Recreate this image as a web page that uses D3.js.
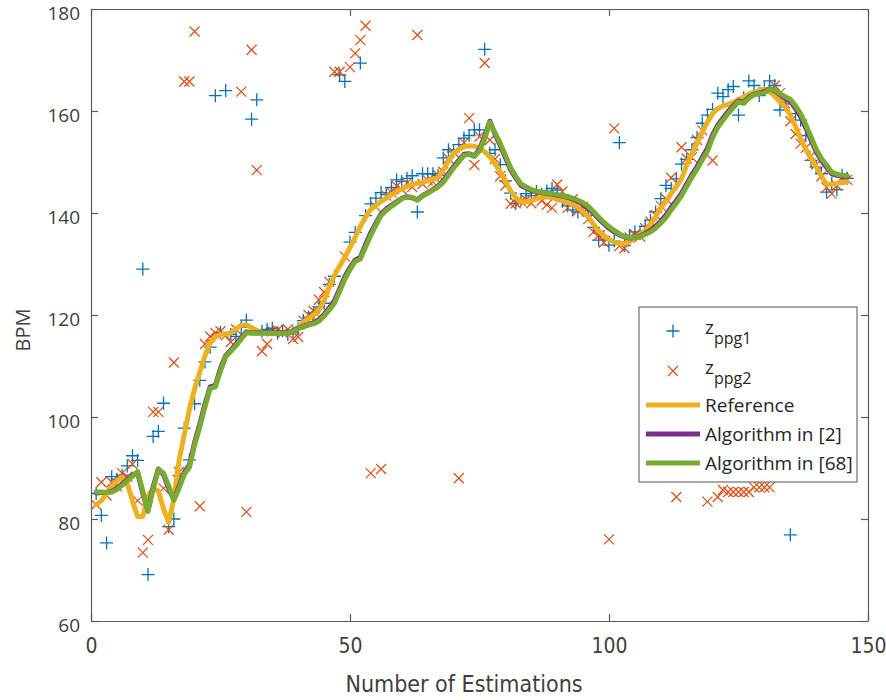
<!DOCTYPE html>
<html>
<head>
<meta charset="utf-8">
<script src="https://cdn.jsdelivr.net/npm/d3@7"></script>
<style>
  body { margin: 0; background: #fff; }
  svg { display: block; }
</style>
</head>
<body>
<svg id="chart" width="886" height="700"></svg>
<script>
// heart rate estimates vs estimation number

// reference heart rate (orange line)
const refBpm = [82.8, 83.6, 85, 86.5, 87.5, 88.2, 87, 83.5, 80.5, 80.5,
  84.5, 86, 85.5, 82, 79.3, 84, 91.5, 96.5, 101.5, 105.5,
  108.8, 112, 114.5, 115.7, 116.2, 116.3, 116.5, 117.3, 118, 118.1,
  117.5, 117, 116.6, 116.5, 116.4, 116.4, 116.4, 116.4, 116.8, 117.6,
  118.6, 119.3, 120, 121, 122.8, 125.5, 127.8, 129.6, 131.3, 133.2,
  135.2, 137.4, 139.2, 140.7, 141.5, 142.3, 142.9, 143.6, 144.2, 144.7,
  145.2, 145.6, 145.8, 146, 146.3, 146.6, 147, 148.4, 150.2, 151.7,
  152.5, 153, 153.2, 153.1, 152.7, 152, 151, 149.6, 148.1, 146.3,
  144.3, 143, 142.2, 142.2, 142.4, 142.8, 143.1, 143.2, 143, 142.7,
  142.4, 142.1, 141.7, 141.1, 140.2, 139.2, 137.8, 136.5, 135.6, 134.8,
  134.3, 134, 133.9, 134.4, 135.1, 135.8, 136.5, 137.7, 139.3, 141,
  142.3, 143.8, 145.2, 146.7, 149.4, 151.6, 153.7, 155.8, 157.8, 159.5,
  160.5, 161, 161.3, 161.7, 162.2, 162.8, 163.3, 163.7, 164, 164.3,
  163.8, 162.9, 161.8, 160.8, 159.2, 157, 154.6, 152.4, 150.7, 149.1,
  147.2, 145.6, 145.7, 145.8, 146, 146.1];

// algorithm in [2] (purple line)
const alg2Bpm = [85.1, 85.2, 85.2, 85.4, 86, 86.8, 87.7, 88.6, 89.1, 85,
  81.7, 86.3, 89.8, 88.7, 86, 83.8, 86.4, 89.1, 90.6, 95,
  98.6, 102.5, 105.9, 106.2, 109.5, 112, 113.1, 114.3, 115.6, 116.7,
  116.5, 116.5, 116.5, 116.5, 116.5, 116.5, 116.5, 116.5, 116.9, 117.4,
  117.8, 118.1, 118.5, 119.1, 120.1, 121.4, 122.8, 125.1, 127.5, 129.3,
  130.8, 131.3, 133.8, 136.1, 138, 139.8, 140.8, 141.5, 142.2, 142.9,
  143.2, 143, 142.6, 143.4, 144, 144.6, 145.3, 146.3, 147.7, 149.1,
  150.3, 151.5, 151.6, 151.2, 152.5, 155, 158, 155.4, 153.3, 150.9,
  148.5, 146.9, 145.4, 144.9, 144.4, 144.2, 144, 143.8, 143.7, 143.5,
  143.3, 143.1, 142.7, 142.3, 141.7, 141, 140, 138.9, 137.9, 137,
  136.3, 135.7, 135.3, 135.1, 135.2, 135.5, 136, 136.6, 137.4, 138.4,
  139.6, 141.1, 142.4, 143.9, 145.7, 147.5, 149.1, 150.9, 152.7, 155.3,
  157.2, 158.6, 159.9, 161, 162, 161.7, 162.7, 163.3, 163.5, 163.8,
  164.3, 164, 163.2, 162.5, 161.9, 160.5, 158.9, 156.7, 154.3, 152,
  150.3, 149, 147.7, 147.4, 147.2, 147.1];

// algorithm in [68] (green line)
const alg68Bpm = [85.3, 85.3, 85.2, 85.3, 85.8, 86.6, 87.5, 88.4, 89.3, 85.5,
  81.5, 85.8, 89.7, 89, 86.5, 83.7, 86, 88.8, 90.1, 94.5,
  98, 102, 105.6, 105.9, 109, 111.8, 112.9, 114, 115.3, 116.5,
  116.4, 116.4, 116.4, 116.4, 116.4, 116.4, 116.4, 116.4, 116.8, 117.3,
  117.7, 118, 118.3, 118.8, 119.8, 121, 122.3, 124.6, 127, 128.9,
  130.5, 131, 133.3, 135.6, 137.6, 139.5, 140.5, 141.3, 142, 142.8,
  143.1, 143.1, 142.5, 143.3, 143.9, 144.5, 145.1, 146, 147.4, 148.8,
  150, 151.3, 151.5, 151.1, 152.2, 154.5, 157.8, 155.7, 153.7, 151.3,
  148.9, 147.2, 145.7, 145.1, 144.6, 144.3, 144.1, 143.9, 143.8, 143.6,
  143.4, 143.2, 142.9, 142.5, 142, 141.3, 140.3, 139.2, 138.2, 137.3,
  136.6, 135.9, 135.4, 135.2, 135.2, 135.4, 135.8, 136.3, 137, 138,
  139.1, 140.6, 141.9, 143.4, 145.2, 147, 148.6, 150.4, 152.1, 154.8,
  156.8, 158.2, 159.5, 160.7, 161.8, 161.5, 162.5, 163.2, 163.4, 163.6,
  164.2, 164.1, 163.4, 162.8, 162.3, 161, 159.5, 157.3, 154.9, 152.5,
  150.7, 149.4, 148, 147.6, 147.4, 147.3];

// z_ppg1 estimates (blue +)
const zPpg1 = [85, 80.7, 75.3, 88.3, 87.8, 88.6, 90.4, 92.4, 91.5, 129,
  69.1, 96.2, 97.2, 102.7, 78.5, 80, 88.5, 97.8, 91.6, 102.6,
  107.2, 110.8, 113.7, 163, 116.6, 164, 116.2, 115.8, 117.6, 119,
  158.4, 162.2, 116.8, 117.2, 117.4, 116.4, 116.9, 116.2, 116.5, 117.3,
  118.9, 119.6, 120.4, 121.6, 122.3, 126, 127.6, 167.1, 165.8, 134.3,
  136.2, 169.4, 139.5, 141.8, 142.9, 144, 143.6, 145, 146.5, 146.2,
  146.8, 147.3, 140.2, 147.7, 147.7, 147.7, 147.4, 150.8, 152.4, 152,
  153.4, 154.7, 155.2, 156.3, 156.3, 172.1, 151.7, 152.4, 149.5, 146.3,
  143.9, 141.9, 142.5, 143.8, 143.4, 144.2, 143.7, 144.3, 144.8, 144.5,
  142.3, 141.4, 140.6, 140.2, 140.5, 139.6, 137.2, 134.7, 135.4, 133.7,
  134.5, 153.8, 133.6, 135.6, 136.3, 136, 137.4, 138.6, 140.2, 142.8,
  145.4, 144.8, 146.7, 149.6, 150.5, 152.4, 154.8, 157.6, 159.2, 160.3,
  163.5, 162.8, 164.2, 164.8, 159.2, 162.6, 165.9, 165, 163, 164.5,
  165.9, 165, 160.2, 161.4, 76.9, 159.5, 158.2, 155.2, 150.3, 149,
  147.7, 144.1, 145.8, 144.6, 147.4, 146.8];

// z_ppg2 estimates (red x)
const zPpg2 = [82.8, 87.2, 84.6, 87.2, 86.4, 89, 88.3, 90.8, 83.6, 73.4,
  75.9, 101, 101, 86, 77.9, 110.7, 89.2, 165.8, 165.8, 175.6,
  82.5, 114.3, 115.8, 116.5, 116.8, 116, 114.7, 117.2, 163.8, 81.4,
  172, 148.4, 112.9, 114.3, 116.8, 117, 116.5, 117.2, 115.3, 115.7,
  118.9, 120, 120.8, 123, 124.5, 126.5, 167.7, 167.7, 131.5, 168.6,
  171.3, 173.9, 176.7, 89, 141.2, 89.8, 143.4, 144, 145.3, 144.6,
  145.9, 145.1, 174.9, 145.7, 146.4, 146.1, 147.4, 148.1, 150.7, 151.9,
  88, 153.8, 158.6, 149.4, 155, 169.4, 154.3, 150.6, 147.2, 145.4,
  141.8, 141.9, 142.3, 142.6, 141.9, 143.5, 142.4, 141.6, 141, 145.6,
  144.2, 141, 142.7, 140.5, 141.2, 138.8, 136.3, 135.6, 134.2, 76,
  156.6, 133.5, 133.1, 135.2, 135.8, 135.4, 137, 138.3, 139.6, 141.4,
  142.8, 146.9, 84.3, 152.9, 150.7, 150.9, 154.3, 156.2, 83.4, 150.3,
  84.3, 85.7, 85.3, 85.3, 85.3, 85.3, 85.3, 86.2, 86.2, 86.2,
  86.2, 165, 163.5, 161.5, 158, 155.5, 153.6, 152.8, 151.2, 149.5,
  147.2, 145, 143.8, 145.4, 146.9, 146.5];

// estimation numbers 1..N
const estimations = refBpm.map((d, i) => i + 1);

// tick values
const xTicks = [0, 50, 100, 150];
const yTicks = [60, 80, 100, 120, 140, 160, 180];

// legend labels
const legendLabels = ["z", "z", "Reference", "Algorithm in [2]", "Algorithm in [68]"];
const legendSubs = ["ppg1", "ppg2", "", "", ""];

// colors (matlab defaults)
const colors = {
    ppg1: "#0072BD",
    ppg2: "#D95319",
    ref: "#EDB120",
    alg2: "#7E2F8E",
    alg68: "#77AC30"
};

// plot box
const plot = {left: 91, right: 868, top: 9, bottom: 621};

const svg = d3.select("#chart");

const xScale = d3.scaleLinear().domain([0, 150]).range([plot.left, plot.right]);
const yScale = d3.scaleLinear().domain([60, 180]).range([plot.bottom, plot.top]);

const axisColor = "#5a5a5a";
const tickFont = "'Open Sans', 'Noto Sans', sans-serif";
const narrowFont = "'Liberation Sans Narrow', 'DejaVu Sans Condensed', 'Open Sans', sans-serif";

// axes - ticks inside like matlab
const xAxis = svg.append("g")
    .attr("transform", `translate(0, ${plot.bottom})`)
    .call(d3.axisBottom(xScale).tickValues(xTicks).tickSizeInner(-7).tickSizeOuter(0).tickPadding(17));
const xTop = svg.append("g")
    .attr("transform", `translate(0, ${plot.top})`)
    .call(d3.axisTop(xScale).tickValues(xTicks).tickSizeInner(-7).tickSizeOuter(0).tickFormat(""));
const yAxis = svg.append("g")
    .attr("transform", `translate(${plot.left}, 0)`)
    .call(d3.axisLeft(yScale).tickValues(yTicks).tickSizeInner(-7).tickSizeOuter(0).tickPadding(11));
const yRight = svg.append("g")
    .attr("transform", `translate(${plot.right}, 0)`)
    .call(d3.axisRight(yScale).tickValues(yTicks).tickSizeInner(-7).tickSizeOuter(0).tickFormat(""));

[xAxis, xTop, yAxis, yRight].forEach(g => {
    g.selectAll("path, line").attr("stroke", axisColor).attr("stroke-width", 1.2);
    g.selectAll("text")
        .attr("fill", "#404040")
        .attr("font-family", tickFont)
        .attr("font-size", "19px");
});
xAxis.selectAll("text").attr("font-family", narrowFont).attr("font-size", "21px");
// matlab puts y labels a little below the tick
yAxis.selectAll("text").attr("dy", "0.55em");

// axis labels
svg.append("text")
    .attr("x", 464)
    .attr("y", 692)
    .attr("text-anchor", "middle")
    .attr("font-family", narrowFont)
    .attr("font-size", "23px")
    .attr("fill", "#404040")
    .text("Number of Estimations");

svg.append("text")
    .attr("transform", "rotate(-90)")
    .attr("x", -330)
    .attr("y", 30)
    .attr("text-anchor", "middle")
    .attr("font-family", tickFont)
    .attr("font-size", "20px")
    .attr("fill", "#404040")
    .text("BPM");

// clip to the plot box
svg.append("clipPath").attr("id", "clip")
    .append("rect")
    .attr("x", plot.left).attr("y", plot.top)
    .attr("width", plot.right - plot.left).attr("height", plot.bottom - plot.top);

const layer = svg.append("g").attr("clip-path", "url(#clip)");

// markers
const plusPath = s => `M${-s},0H${s}M0,${-s}V${s}`;
const crossPath = s => `M${-s},${-s}L${s},${s}M${-s},${s}L${s},${-s}`;

layer.append("g").selectAll("path")
    .data(zPpg1)
    .enter()
    .append("path")
    .attr("transform", (d, i) => `translate(${xScale(estimations[i])},${yScale(d)})`)
    .attr("d", plusPath(6.5))
    .attr("stroke", colors.ppg1)
    .attr("stroke-width", 1.3)
    .attr("fill", "none");

layer.append("g").selectAll("path")
    .data(zPpg2)
    .enter()
    .append("path")
    .attr("transform", (d, i) => `translate(${xScale(estimations[i])},${yScale(d)})`)
    .attr("d", crossPath(5))
    .attr("stroke", colors.ppg2)
    .attr("stroke-width", 1.3)
    .attr("fill", "none");

// lines
const line = d3.line()
    .x((d, i) => xScale(estimations[i]))
    .y(d => yScale(d));

[[refBpm, colors.ref], [alg2Bpm, colors.alg2], [alg68Bpm, colors.alg68]].forEach(([vals, col]) => {
    layer.append("path")
        .datum(vals)
        .attr("d", line)
        .attr("fill", "none")
        .attr("stroke", col)
        .attr("stroke-width", 5)
        .attr("stroke-linejoin", "round")
        .attr("stroke-linecap", "round");
});

// legend
const legend = svg.append("g").attr("transform", "translate(639, 307)");
legend.append("rect")
    .attr("width", 218)
    .attr("height", 175)
    .attr("fill", "#fff")
    .attr("stroke", "#6e6e6e")
    .attr("stroke-width", 1.2);

const rowY = [24, 64, 98, 127, 156];
const legendFont = "'Open Sans', 'Noto Sans', sans-serif";

legendLabels.forEach((label, i) => {
    const row = legend.append("g").attr("transform", `translate(0, ${rowY[i]})`);
    if (i === 0) {
        row.append("path").attr("transform", "translate(34,0)").attr("d", plusPath(6.5))
            .attr("stroke", colors.ppg1).attr("stroke-width", 1.3);
    } else if (i === 1) {
        row.append("path").attr("transform", "translate(34,0)").attr("d", crossPath(5))
            .attr("stroke", colors.ppg2).attr("stroke-width", 1.3);
    } else {
        const col = [colors.ref, colors.alg2, colors.alg68][i - 2];
        row.append("line").attr("x1", 7).attr("x2", 61)
            .attr("stroke", col).attr("stroke-width", 5);
    }
    const t = row.append("text")
        .attr("x", 66)
        .attr("y", legendSubs[i] ? 3 : 7)
        .attr("font-family", legendFont)
        .attr("font-size", "19px")
        .attr("fill", "#262626")
        .text(label);
    if (legendSubs[i]) {
        t.append("tspan")
            .attr("dy", 10)
            .attr("font-size", "16px")
            .text(legendSubs[i]);
    }
});
</script>
</body>
</html>
